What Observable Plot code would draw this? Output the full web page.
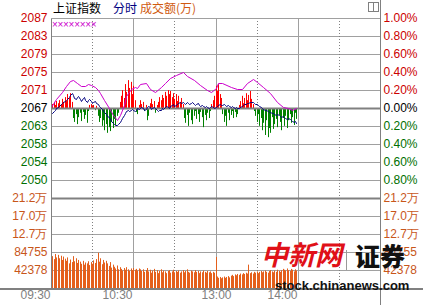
<!DOCTYPE html>
<html><head><meta charset="utf-8">
<script src="https://cdn.jsdelivr.net/npm/d3@7"></script>
<script src="https://cdn.jsdelivr.net/npm/@observablehq/plot@0.6"></script>
<style>
html,body{margin:0;padding:0;background:#fff;}
#wrap{position:relative;width:423px;height:305px;overflow:hidden;background:#fff;font-family:"Liberation Sans",Arial,sans-serif;}
#wrap svg{position:absolute;left:0;}
.abs{position:absolute;white-space:nowrap;}
.hdr{top:0;font-family:"Noto Sans CJK SC",sans-serif;font-size:12px;line-height:16px;}
</style></head><body>
<div id="wrap"></div>
<script>
// ---- data ----
const P0 = 2066.7; // previous close (0.00% line)
const pctTicks = [1.0, 0.8, 0.6, 0.4, 0.2, 0, -0.2, -0.4, -0.6, -0.8];
const priceTickLabels = ["2087","2083","2079","2075","2071","2067","2063","2058","2054","2050"];
const pctTickLabels = ["1.00%","0.80%","0.60%","0.40%","0.20%","0.00%","0.20%","0.40%","0.60%","0.80%"];
const volTicks = [211888, 169510, 127133, 84755, 42378];
const volTickLabels = ["21.2万","17.0万","12.7万","84755","42378"];
const timeTicks = [0, 60, 120, 180];
const timeLabels = ["09:30","10:30","13:00","14:00"];
const solidGrid = [60, 120, 180];
const dottedGrid = [30, 90, 150, 210];

// index price per minute (09:30 = minute 0)
const indexPrice = [
2065.32,2065.55,2066.01,2066.24,2066.70,2066.93,2067.16,2067.62,2067.85,2068.08,
2068.31,2068.54,2068.77,2069.23,2069.68,2070.14,2069.68,2069.00,2068.77,2069.23,
2069.46,2068.77,2068.31,2069.00,2069.23,2068.54,2068.08,2068.54,2068.77,2068.31,
2067.85,2068.08,2068.31,2067.85,2067.62,2067.16,2066.93,2066.47,2066.01,2065.78,
2065.32,2064.86,2064.63,2064.17,2063.72,2063.26,2063.03,2062.80,2062.80,2063.03,
2063.49,2063.94,2064.40,2065.09,2065.55,2066.01,2066.24,2066.01,2066.24,2066.47,
2066.24,2066.01,2066.24,2066.70,2066.47,2066.70,2066.93,2066.70,2066.24,2066.47,
2066.93,2067.16,2066.93,2066.47,2066.70,2066.93,2066.70,2066.24,2066.01,2066.24,
2066.24,2066.70,2066.47,2066.93,2067.16,2066.93,2066.70,2067.16,2067.39,2067.62,
2067.16,2067.39,2067.62,2067.85,2068.08,2067.85,2068.08,2067.85,2067.62,2068.08,
2067.85,2067.62,2067.85,2068.08,2067.62,2067.39,2067.62,2067.85,2067.39,2067.16,
2067.39,2067.16,2066.93,2067.16,2066.93,2066.70,2066.93,2067.16,2066.93,2066.70,
2066.93,2067.16,2067.39,2067.62,2067.39,2067.39,2067.62,2067.39,2067.16,2067.39,
2067.16,2066.93,2067.16,2066.93,2066.70,2066.93,2066.70,2066.70,2066.93,2067.16,
2067.39,2067.62,2067.62,2067.85,2067.85,2068.08,2068.08,2068.08,2067.85,2067.62,
2067.62,2067.39,2067.16,2066.93,2066.70,2066.47,2066.24,2066.24,2066.01,2065.78,
2065.78,2065.55,2065.55,2065.32,2065.09,2065.32,2065.09,2064.86,2064.63,2064.86,
2064.63,2064.40,2064.17,2064.40,2064.17,2063.94,2063.72,2063.49,2063.72,2063.26
];

// purple line (sampled minutes / values)
const purpleMinutes = [0,4,8,11,14,16,19,22,25,27,29,32,34,36,39,42,45,48,50,53,55,58,61,63,65,69,72,76,80,83,87,91,96,99,104,109,114,117,120,122,125,131,136,139,143,147,150,155,160,165,169,173,176,179];
const purpleValues = [2066.93,2068.77,2070.37,2071.75,2072.90,2073.13,2072.44,2071.75,2071.75,2072.21,2071.98,2071.52,2070.83,2070.14,2068.54,2066.70,2065.09,2063.94,2065.09,2067.39,2069.46,2071.06,2071.52,2071.29,2072.21,2072.44,2071.06,2070.37,2071.52,2072.44,2073.59,2074.28,2074.97,2074.05,2073.13,2071.98,2070.83,2070.37,2071.29,2072.44,2072.44,2071.52,2071.06,2071.06,2072.44,2073.36,2072.67,2071.52,2070.14,2068.08,2066.93,2066.70,2066.24,2066.70];

// red / green strength bars (index points from the 0.00% line)
const strength = [
-2.3,0.9,1.4,0.7,1.6,1.1,1.8,0.9,2.1,1.4,
2.5,1.6,3.2,2.3,3.4,1.4,-2.3,-3.2,-1.4,-3.7,
-2.1,-1.1,-3.0,-0.9,-2.5,-1.6,-3.4,-0.7,0.7,0.9,
0.5,0.7,-0.5,0.5,-1.8,-3.2,-2.3,-4.1,-2.8,-5.1,
-3.7,-5.7,-4.4,-5.3,-3.2,-4.6,-2.5,-3.9,-1.8,-1.1,
1.4,2.8,4.1,2.3,5.5,3.7,6.4,4.6,6.0,3.2,
5.1,1.8,-0.9,-1.4,0.7,1.8,0.9,1.4,-0.7,0.7,
-2.8,-1.8,1.1,2.1,0.9,1.6,-1.1,0.7,1.4,2.5,
1.8,3.0,2.3,3.7,2.8,4.1,3.2,3.9,2.5,3.4,
2.1,3.2,1.6,2.8,1.4,2.3,0.9,-2.3,-3.4,-1.6,
-4.1,-1.1,-2.8,-3.7,-1.8,-0.7,-2.5,-1.4,-3.2,-0.9,
-2.1,-4.4,-1.6,-2.8,-1.1,-2.3,-0.7,0.9,1.8,2.8,
5.1,3.9,5.5,3.2,2.3,-1.4,-3.2,-1.8,-4.1,-1.1,
-2.8,-1.6,-0.7,-2.3,-0.9,-2.1,-1.4,0.7,1.6,2.8,
1.1,2.3,3.4,1.8,3.0,3.9,2.1,0.9,-0.7,-1.8,
-3.2,-1.4,-4.1,-2.3,-5.1,-3.4,-6.2,-2.8,-6.7,-4.6,
-5.7,-2.1,-4.8,-3.7,-2.5,-4.4,-1.6,-3.2,-5.1,-2.3,
-4.1,-1.8,-4.6,-2.8,-1.4,-3.4,-2.1,-3.9,-1.1,-2.5
];

// turnover per minute
const volume = [
195000,75000,68000,80000,72000,78000,70000,76000,66000,74000,
69000,64000,72000,58000,67000,61000,75000,63000,70000,59000,
66000,62000,57000,64000,55000,60000,58000,63000,54000,61000,
57000,65000,59000,68000,83000,62000,70000,56000,66000,60000,
64000,58000,52000,61000,48000,55000,50000,46000,53000,44000,
49000,45000,41000,47000,43000,49000,44000,40000,46000,42000,
47000,43000,45000,41000,46000,44000,40000,44000,38000,42000,
47000,39000,43000,36000,41000,45000,38000,42000,35000,40000,
44000,37000,41000,39000,35000,40000,42000,36000,39000,43000,
37000,40000,38000,41000,36000,39000,42000,37000,40000,44000,
38000,36000,41000,39000,37000,42000,38000,40000,35000,39000,
37000,41000,38000,36000,40000,37000,39000,35000,38000,36000,
73000,27000,24000,26000,23000,25000,27000,24000,26000,28000,
25000,29000,31000,28000,32000,30000,33000,31000,34000,32000,
35000,33000,36000,34000,55000,35000,37000,34000,38000,36000,
39000,35000,38000,40000,37000,39000,41000,38000,36000,40000,
42000,39000,37000,41000,38000,43000,40000,38000,42000,45000,
43000,41000,46000,42000,40000,45000,43000,39000,44000,41000
];

// ---- build ----
const priceAt = p => P0 * (1 + p / 100);
const priceRows = pctTicks.map((p, i) => ({p, y: priceAt(p), left: priceTickLabels[i], right: pctTickLabels[i]}));
const navy = indexPrice.map((v, m) => ({m, v}));
const purple = purpleMinutes.map((m, i) => ({m, v: purpleValues[i]}));
const bars = strength.map((v, m) => ({m, v}));
const vols = volume.map((v, m) => ({m, v}));
const volRows = volTicks.map((v, i) => ({v, label: volTickLabels[i]}));
const timeRows = timeTicks.map((m, i) => ({m, label: timeLabels[i]}));

const RED = "#cc0000", GREEN = "#006f00", ORANGE = "#c8561a", GRID = "#a0a0a0", AX = "#808080";
const FONT = "Liberation Sans, Arial, sans-serif";

const pricePlot = Plot.plot({
  width: 423, height: 198,
  marginLeft: 51, marginRight: 43, marginTop: 18, marginBottom: 0,
  x: {domain: [0, 240], round: true, axis: null},
  y: {domain: [priceAt(-1), priceAt(1)], axis: null},
  style: {background: "transparent", overflow: "visible", fontFamily: FONT},
  marks: [
    Plot.ruleY(priceRows.filter(d => d.p !== 0), {y: "y", stroke: GRID}),
    Plot.ruleX(solidGrid, {stroke: GRID}),
    Plot.ruleX(dottedGrid, {stroke: AX, strokeDasharray: "1,2"}),
    Plot.ruleX(bars.filter(d => d.v > 0), {x: "m", y1: P0, y2: d => P0 + d.v, stroke: "#ff0000"}),
    Plot.ruleX(bars.filter(d => d.v < 0), {x: "m", y1: P0, y2: d => P0 + d.v, stroke: "#008000"}),
    Plot.ruleY([P0], {stroke: AX, strokeWidth: 2}),
    Plot.line(purple, {x: "m", y: "v", stroke: "#cc00cc", strokeWidth: 1}),
    Plot.line(navy, {x: "m", y: "v", stroke: "#000080", strokeWidth: 1}),
    Plot.ruleX([0], {stroke: AX}),
    Plot.text(priceRows.filter(d => d.p > 0), {y: "y", text: "left", frameAnchor: "left", textAnchor: "end", dx: -4, fill: RED, fontSize: 12}),
    Plot.text(priceRows.filter(d => d.p === 0), {y: "y", text: "left", frameAnchor: "left", textAnchor: "end", dx: -4, fill: "#000", fontSize: 12}),
    Plot.text(priceRows.filter(d => d.p < 0), {y: "y", text: "left", frameAnchor: "left", textAnchor: "end", dx: -4, fill: GREEN, fontSize: 12}),
    Plot.text(priceRows.filter(d => d.p > 0), {y: "y", text: "right", frameAnchor: "right", textAnchor: "start", dx: 3, fill: RED, fontSize: 12}),
    Plot.text(priceRows.filter(d => d.p === 0), {y: "y", text: "right", frameAnchor: "right", textAnchor: "start", dx: 3, fill: "#000", fontSize: 12}),
    Plot.text(priceRows.filter(d => d.p < 0), {y: "y", text: "right", frameAnchor: "right", textAnchor: "start", dx: 3, fill: GREEN, fontSize: 12})
  ]
});

const volumePlot = Plot.plot({
  width: 423, height: 107,
  marginLeft: 51, marginRight: 43, marginTop: 0, marginBottom: 17,
  x: {domain: [0, 240], round: true, axis: null},
  y: {domain: [0, volTicks[0]], axis: null},
  style: {background: "transparent", overflow: "visible", fontFamily: FONT},
  marks: [
    Plot.ruleY(volTicks.slice(1), {stroke: GRID}),
    Plot.ruleX(solidGrid, {stroke: GRID}),
    Plot.ruleX(dottedGrid, {stroke: AX, strokeDasharray: "1,2"}),
    Plot.ruleX(vols, {x: "m", y1: 0, y2: "v", stroke: "#e45f1c", strokeWidth: 1}),
    Plot.ruleY([volTicks[0]], {stroke: AX, strokeWidth: 2}),
    Plot.ruleX([0], {stroke: AX}),
    Plot.text(volRows, {y: "v", text: "label", frameAnchor: "left", textAnchor: "end", dx: -4, fill: ORANGE, fontSize: 12}),
    Plot.text(volRows, {y: "v", text: "label", frameAnchor: "right", textAnchor: "start", dx: 3, fill: ORANGE, fontSize: 12}),
    Plot.text(timeRows.filter(d => d.m !== 120), {x: "m", text: "label", frameAnchor: "bottom", dy: 10, dx: -1, textAnchor: "end", fill: AX, fontSize: 12}),
    Plot.text(timeRows.filter(d => d.m === 120), {x: "m", text: "label", frameAnchor: "bottom", dy: 10, textAnchor: "middle", fill: AX, fontSize: 12})
  ]
});

const wrap = document.getElementById("wrap");
pricePlot.style.top = "0px";
volumePlot.style.top = "198px";
wrap.appendChild(pricePlot);
wrap.appendChild(volumePlot);

function addDiv(html, css, cls) {
  const d = document.createElement("div");
  d.className = "abs" + (cls ? " " + cls : "");
  d.style.cssText = css;
  d.innerHTML = html;
  wrap.appendChild(d);
  return d;
}
// header
addDiv("上证指数", "left:53px;color:#000;", "hdr");
addDiv("分时", "left:113px;color:#000080;", "hdr");
addDiv("成交额(万)", "left:140px;color:#d05a10;", "hdr");
// marker row
addDiv("××××××××", "left:52px;top:19px;font-size:10px;line-height:12px;color:#cc00cc;letter-spacing:-0.3px;");
// frame chrome
addDiv("", "left:51px;top:18px;width:329px;height:1px;background:#a0a0a0;");
addDiv("", "left:380px;top:0;width:1px;height:305px;background:#808080;");
addDiv("", "left:0;top:288px;width:423px;height:2px;background:#808080;");
addDiv("", "left:368px;top:2px;width:9px;height:8px;border:1px solid #808080;background:#fff;");
addDiv("", "left:373px;top:2px;width:1px;height:10px;background:#808080;");
// watermark
addDiv("中新网", "left:261px;top:236px;font-family:'Noto Sans CJK SC';font-weight:700;font-size:27px;line-height:36px;color:#e01018;font-style:italic;");
addDiv("", "left:346px;top:250px;width:1px;height:20px;background:#999;");
addDiv("证券", "left:355px;top:238px;font-family:'Noto Sans CJK SC';font-weight:900;font-size:25px;line-height:34px;color:#111;");
addDiv("stock.chinanews.com", "left:275px;top:279px;font-family:'Liberation Sans',Arial;font-weight:bold;font-size:13px;line-height:14px;color:#111;");
</script>
</body></html>
